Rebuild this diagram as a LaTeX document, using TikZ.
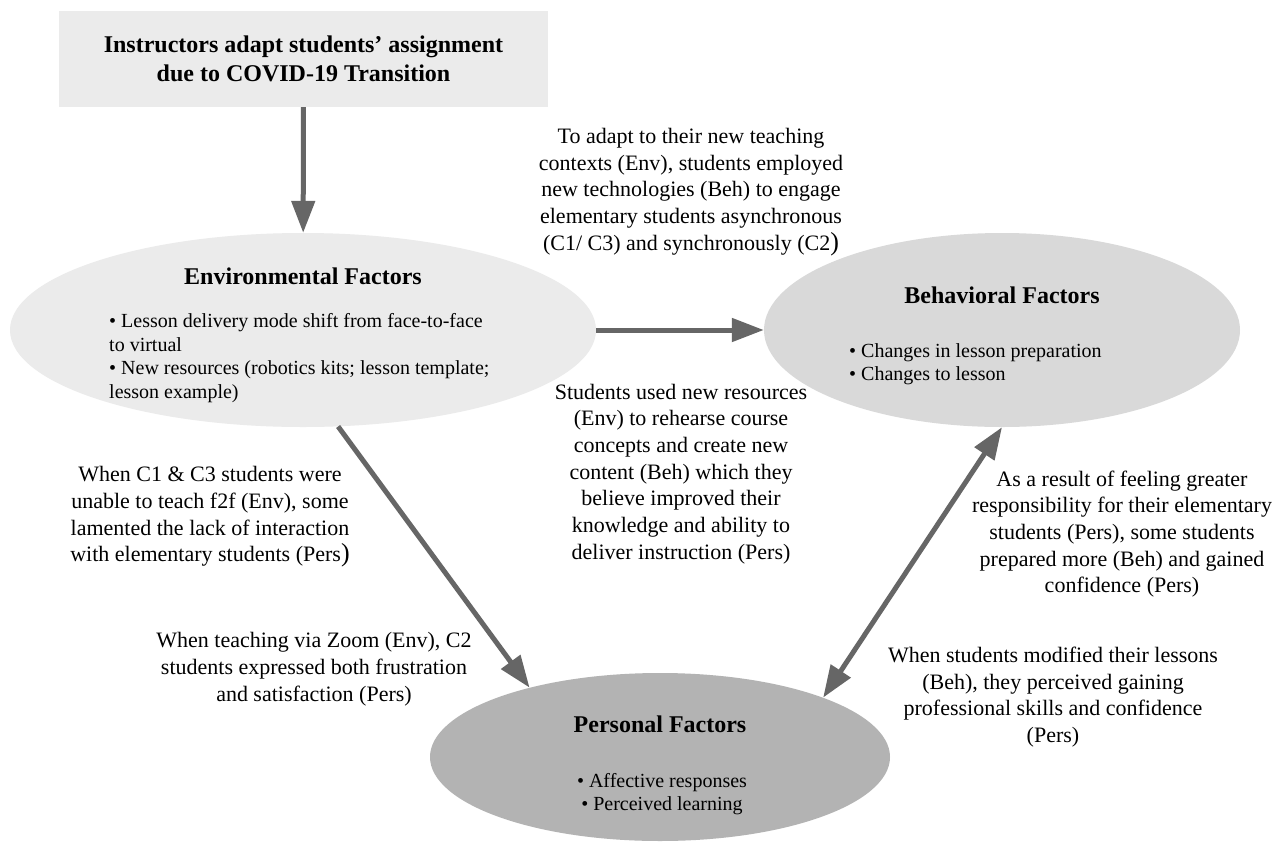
\documentclass[tikz,border=0pt]{standalone}
\usepackage{fontspec}
\setmainfont{Liberation Serif}
\usetikzlibrary{arrows.meta,shapes.geometric}
\definecolor{boxgray}{HTML}{EBEBEB}
\definecolor{envgray}{HTML}{EBEBEB}
\definecolor{behgray}{HTML}{D9D9D9}
\definecolor{persgray}{HTML}{B3B3B3}
\definecolor{arrowgray}{HTML}{666666}
\newcommand{\bigparen}{{\fontsize{26}{26.7}\selectfont )}}
\tikzset{
  conn/.style={draw=arrowgray, line width=5pt, -{Triangle[length=32pt,width=23pt]}},
  dconn/.style={draw=arrowgray, line width=5pt, {Triangle[length=32pt,width=23pt]}-{Triangle[length=32pt,width=23pt]}},
  factor/.style={ellipse, inner sep=0pt, draw=none},
  heading/.style={font=\fontsize{24}{29}\selectfont\bfseries, align=center, inner sep=0pt},
  bullets/.style={font=\fontsize{20}{23.5}\selectfont, inner sep=0pt},
  note/.style={font=\fontsize{22}{26.7}\selectfont, align=center, inner sep=0pt},
}
\begin{document}
\begin{tikzpicture}[x=1pt,y=-1pt]
\useasboundingbox[fill=white] (0,0) rectangle (1272,841);
% title box
\node[fill=boxgray, minimum width=489pt, minimum height=96pt, inner sep=0pt, heading] (title) at (303.5,59)
  {Instructors adapt students’ assignment\\due to COVID-19 Transition};
% ellipses
\node[factor, fill=envgray, minimum width=586pt, minimum height=194pt] (env) at (303,330) {};
\node[factor, fill=behgray, minimum width=476pt, minimum height=194pt] (beh) at (1002,330) {};
\node[factor, fill=persgray, minimum width=460pt, minimum height=168pt] (pers) at (660,757) {};
% ellipse contents
\node[heading] (envt) at (303,276) {Environmental Factors};
\node[bullets, align=left, anchor=west] (envb) at (109,358)
  {• Lesson delivery mode shift from face-to-face\\to virtual\\• New resources (robotics kits; lesson template;\\lesson example)};
\node[heading] (beht) at (1002,295) {Behavioral Factors};
\node[bullets, align=left, anchor=west] (behb) at (849,364)
  {• Changes in lesson preparation\\• Changes to lesson};
\node[heading] (perst) at (660,724) {Personal Factors};
\node[bullets, align=center] (persb) at (662,794)
  {• Affective responses\\• Perceived learning};
% connectors
\draw[conn] (title) -- (env);
\draw[conn] (env) -- (beh);
\draw[conn] (env.-70.7) -- (pers.152.8);
\draw[dconn] (pers.20.2) -- (beh.south);
% notes
\node[note] (n1) at (691,192)
  {To adapt to their new teaching\\contexts (Env), students employed\\new technologies (Beh) to engage\\elementary students asynchronous\\(C1/ C3) and synchronously (C2\bigparen};
\node[note] (n2) at (681,474)
  {Students used new resources\\(Env) to rehearse course\\concepts and create new\\content (Beh) which they\\believe improved their\\knowledge and ability to\\deliver instruction (Pers)};
\node[note] (n3) at (210,517)
  {When C1 \& C3 students were\\unable to teach f2f (Env), some\\lamented the lack of interaction\\with elementary students (Pers\bigparen};
\node[note] (n4) at (314,669)
  {When teaching via Zoom (Env), C2\\students expressed both frustration\\and satisfaction (Pers)};
\node[note] (n5) at (1122,534)
  {As a result of feeling greater\\responsibility for their elementary\\students (Pers), some students\\prepared more (Beh) and gained\\confidence (Pers)};
\node[note] (n6) at (1053,697)
  {When students modified their lessons\\(Beh), they perceived gaining\\professional skills and confidence\\(Pers)};
\end{tikzpicture}
\end{document}
